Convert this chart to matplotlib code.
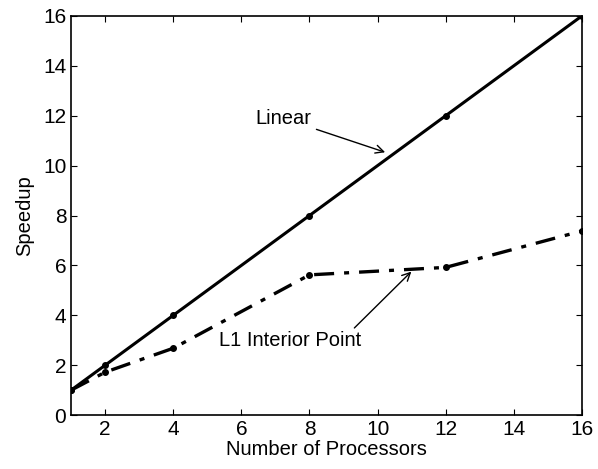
import matplotlib
matplotlib.use("Agg")
import matplotlib.pyplot as plt

# --- data ---
processors = [1, 2, 4, 8, 12, 16]
linear_speedup = [1, 2, 4, 8, 12, 16]
l1_speedup = [1.0, 1.72, 2.68, 5.62, 5.92, 7.38]

plt.rcParams['font.family'] = ['Liberation Sans', 'DejaVu Sans']

fig = plt.figure(figsize=(5.98, 4.69), dpi=100)
ax = fig.add_axes([0.119, 0.115, 0.854, 0.851])

ax.plot(processors, linear_speedup, '-', color='black', lw=2.2,
        marker='o', markersize=4)
ax.plot(processors, l1_speedup, '-.', color='black', lw=2.4,
        marker='o', markersize=4, dashes=(6, 3, 1.5, 3))

ax.annotate('Linear', xy=(10.3, 10.5), xytext=(6.4, 11.9),
            fontsize=14.5, va='center', ha='left',
            arrowprops=dict(arrowstyle='->', color='black', lw=1))
ax.annotate('L1 Interior Point', xy=(11.05, 5.83), xytext=(5.35, 3.0),
            fontsize=14.5, va='center', ha='left',
            arrowprops=dict(arrowstyle='->', color='black', lw=1,
                            shrinkA=0, relpos=(0.93, 1.0)))

ax.set_xlim(1, 16)
ax.set_ylim(0, 16)
ax.set_xticks(range(2, 17, 2))
ax.set_yticks(range(0, 17, 2))
ax.tick_params(direction='in', top=True, right=True, labelsize=15, length=4)
ax.set_xlabel('Number of Processors', fontsize=14.5, labelpad=1)
ax.set_ylabel('Speedup', fontsize=14.5, labelpad=6)
for s in ax.spines.values():
    s.set_linewidth(1.2)

fig.savefig('out.png', dpi=100)
